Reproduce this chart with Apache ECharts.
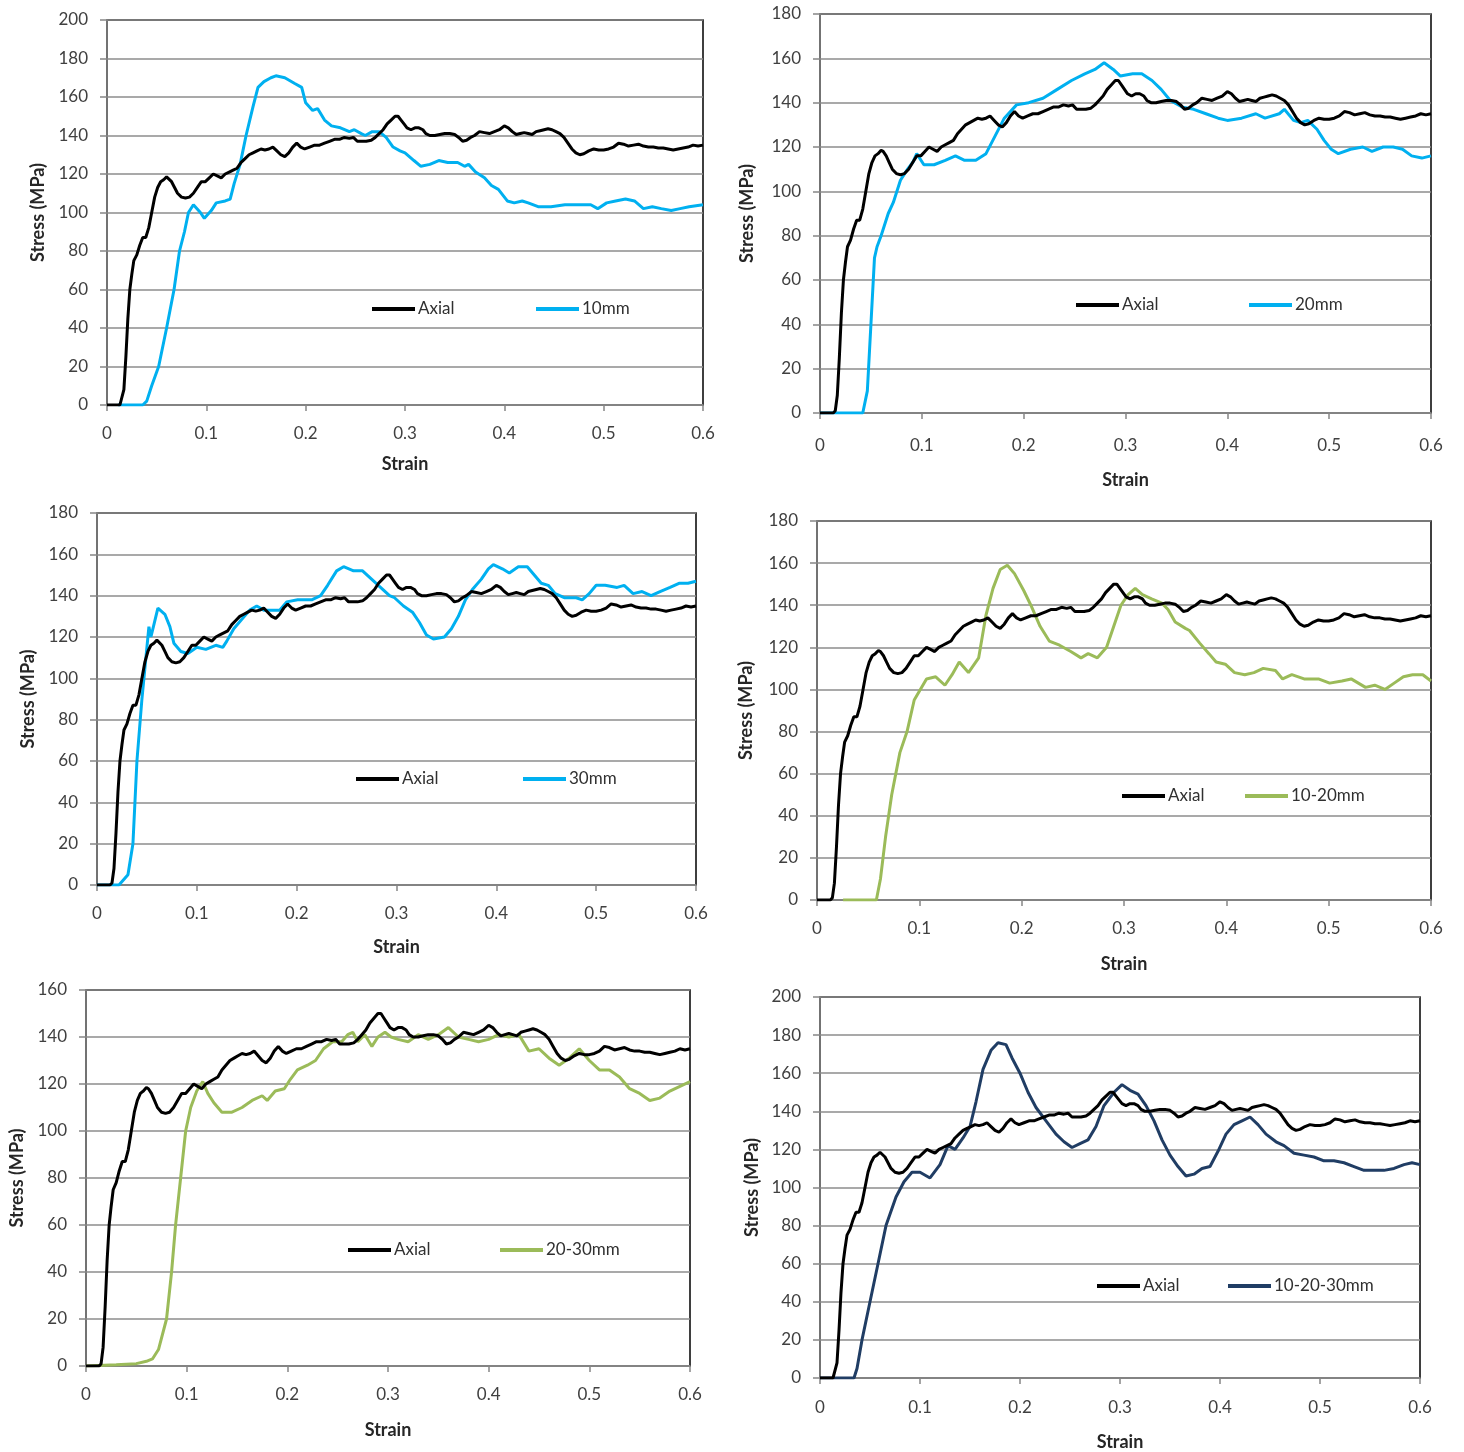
<!DOCTYPE html>
<html>
<head>
<meta charset="utf-8">
<script src="https://cdn.jsdelivr.net/npm/echarts@6/dist/echarts.min.js"></script>
<style>
  html, body { margin: 0; padding: 0; background: #fff; }
  #chart { width: 1464px; height: 1452px; }
</style>
</head>
<body>
<div id="chart"></div>
<script>
// Stress–strain curves: axial reference vs. various specimen configurations.
const strainTicks = [0, 0.1, 0.2, 0.3, 0.4, 0.5, 0.6];

// Axial (reference) curve, shared by every panel: [strain, stress MPa]
const axial = [[0,0],[0.013,0],[0.015,1],[0.017,8],[0.019,25],[0.021,45],[0.023,60],[0.025,68],[0.027,75],[0.03,78],[0.033,83],[0.036,87],[0.039,87],[0.042,92],[0.045,100],[0.048,108],[0.051,113],[0.054,116],[0.057,117],[0.06,118.5],[0.062,118],[0.065,116],[0.068,113],[0.071,110],[0.075,108],[0.079,107.5],[0.083,108],[0.087,110],[0.091,113],[0.095,116],[0.099,116],[0.103,118],[0.107,120],[0.111,119],[0.115,118],[0.119,120],[0.123,121],[0.127,122],[0.131,123],[0.135,126],[0.139,128],[0.143,130],[0.147,131],[0.151,132],[0.155,133],[0.159,132.5],[0.163,133],[0.167,134],[0.171,132],[0.175,130],[0.179,129],[0.183,131],[0.187,134],[0.191,136],[0.195,134],[0.199,133],[0.204,134],[0.209,135],[0.214,135],[0.219,136],[0.224,137],[0.229,138],[0.234,138],[0.239,139],[0.244,138.5],[0.248,139],[0.252,137],[0.256,137],[0.261,137],[0.266,137.5],[0.27,139],[0.274,141],[0.278,143],[0.282,146],[0.286,148],[0.29,150],[0.293,150],[0.296,148],[0.299,146],[0.302,144],[0.306,143],[0.31,144],[0.314,144],[0.318,143],[0.321,141],[0.325,140],[0.33,140],[0.335,140.5],[0.34,141],[0.345,141],[0.35,140.5],[0.354,139],[0.358,137],[0.362,137.5],[0.366,139],[0.37,140],[0.375,142],[0.38,141.5],[0.385,141],[0.39,142],[0.395,143],[0.4,145],[0.404,144],[0.408,142],[0.412,140.5],[0.416,141],[0.42,141.5],[0.424,141],[0.428,140.5],[0.432,142],[0.436,142.5],[0.44,143],[0.444,143.5],[0.448,143],[0.452,142],[0.456,141],[0.46,139],[0.464,136],[0.468,133],[0.472,131],[0.476,130],[0.48,130.5],[0.485,132],[0.49,133],[0.495,132.5],[0.5,132.5],[0.505,133],[0.51,134],[0.515,136],[0.52,135.5],[0.525,134.5],[0.53,135],[0.535,135.5],[0.54,134.5],[0.545,134],[0.55,134],[0.555,133.5],[0.56,133.5],[0.565,133],[0.57,132.5],[0.575,133],[0.58,133.5],[0.585,134],[0.59,135],[0.595,134.5],[0.6,135]];

const s10mm = [[0.011,0],[0.036,0],[0.04,2],[0.045,10],[0.052,20],[0.06,40],[0.0675,60],[0.073,80],[0.078,90],[0.082,100],[0.087,104],[0.094,100],[0.098,97],[0.105,101],[0.11,105],[0.119,106],[0.124,107],[0.128,115],[0.134,125],[0.14,140],[0.147,155],[0.152,165],[0.158,168],[0.165,170],[0.17,171],[0.179,170],[0.189,167],[0.196,165],[0.2,157],[0.207,153],[0.212,154],[0.219,148],[0.226,145],[0.235,144],[0.244,142],[0.249,143],[0.256,141],[0.26,140],[0.267,142],[0.274,142],[0.281,139],[0.288,134],[0.295,132],[0.3,131],[0.309,127],[0.316,124],[0.325,125],[0.334,127],[0.343,126],[0.353,126],[0.36,124],[0.364,125],[0.371,121],[0.38,118],[0.387,114],[0.394,112],[0.403,106],[0.41,105],[0.418,106],[0.424,105],[0.434,103],[0.447,103],[0.461,104],[0.475,104],[0.487,104],[0.494,102],[0.503,105],[0.512,106],[0.522,107],[0.531,106],[0.54,102],[0.549,103],[0.558,102],[0.568,101],[0.577,102],[0.586,103],[0.6,104]];

const s20mm = [[0,0],[0.042,0],[0.0465,10],[0.05,40],[0.0535,70],[0.056,75],[0.06,80],[0.067,90],[0.072,95],[0.079,105],[0.086,110],[0.091,113],[0.095,117],[0.102,112],[0.112,112],[0.123,114],[0.133,116],[0.142,114],[0.153,114],[0.163,117],[0.172,125],[0.181,133],[0.193,139],[0.205,140],[0.219,142],[0.233,146],[0.247,150],[0.26,153],[0.27,155],[0.279,158],[0.288,155],[0.295,152],[0.307,153],[0.316,153],[0.326,150],[0.335,146],[0.344,141],[0.356,138],[0.367,137],[0.379,135],[0.391,133],[0.4,132],[0.414,133],[0.428,135],[0.437,133],[0.451,135],[0.456,137],[0.465,132],[0.472,131],[0.479,132],[0.488,128],[0.495,123],[0.502,119],[0.509,117],[0.521,119],[0.533,120],[0.542,118],[0.553,120],[0.563,120],[0.572,119],[0.581,116],[0.591,115],[0.6,116]];

const s30mm = [[0,0],[0.022,0],[0.031,5],[0.036,20],[0.04,60],[0.045,90],[0.049,110],[0.052,125],[0.054,120],[0.059,130],[0.061,134],[0.068,131],[0.073,125],[0.077,117],[0.084,113],[0.091,112],[0.1,115],[0.109,114],[0.119,116],[0.126,115],[0.13,118],[0.137,124],[0.144,128],[0.153,133],[0.16,135],[0.167,133],[0.178,133],[0.183,133],[0.19,137],[0.201,138],[0.215,138],[0.224,140],[0.231,145],[0.24,152],[0.247,154],[0.257,152],[0.266,152],[0.275,148],[0.284,144],[0.293,140],[0.298,139],[0.307,135],[0.316,132],[0.323,127],[0.33,121],[0.337,119],[0.348,120],[0.355,124],[0.362,130],[0.369,138],[0.376,143],[0.385,148],[0.392,153],[0.397,155],[0.406,153],[0.413,151],[0.422,154],[0.431,154],[0.438,150],[0.445,146],[0.452,145],[0.459,141],[0.468,139],[0.48,139],[0.486,138],[0.493,141],[0.5,145],[0.509,145],[0.521,144],[0.528,145],[0.537,141],[0.546,142],[0.555,140],[0.564,142],[0.574,144],[0.583,146],[0.592,146],[0.6,147]];

const s10to20mm = [[0.0255,0],[0.058,0],[0.062,10],[0.067,30],[0.073,50],[0.081,70],[0.088,80],[0.095,95],[0.107,105],[0.116,106],[0.125,102],[0.132,107],[0.139,113],[0.148,108],[0.158,115],[0.165,135],[0.172,148],[0.179,157],[0.186,159],[0.193,155],[0.202,147],[0.209,140],[0.218,130],[0.227,123],[0.237,121],[0.248,118],[0.258,115],[0.265,117],[0.274,115],[0.283,120],[0.29,130],[0.297,140],[0.304,145],[0.311,148],[0.318,145],[0.327,143],[0.337,141],[0.343,138],[0.35,132],[0.36,129],[0.364,128],[0.374,122],[0.383,117],[0.39,113],[0.399,112],[0.408,108],[0.418,107],[0.427,108],[0.436,110],[0.448,109],[0.455,105],[0.464,107],[0.476,105],[0.49,105],[0.501,103],[0.513,104],[0.522,105],[0.529,103],[0.536,101],[0.545,102],[0.555,100],[0.564,103],[0.573,106],[0.582,107],[0.592,107],[0.6,104]];

const s20to30mm = [[0,0],[0.03,0.5],[0.05,1],[0.06,2],[0.066,3],[0.072,7],[0.08,20],[0.085,40],[0.089,60],[0.094,80],[0.099,100],[0.104,110],[0.11,117],[0.116,121],[0.121,116],[0.127,112],[0.135,108],[0.145,108],[0.155,110],[0.165,113],[0.175,115],[0.18,113],[0.188,117],[0.197,118],[0.203,122],[0.21,126],[0.22,128],[0.228,130],[0.236,135],[0.245,138],[0.254,138],[0.26,141],[0.265,142],[0.27,138],[0.277,141],[0.284,136],[0.29,140],[0.297,142],[0.303,140],[0.31,139],[0.32,138],[0.33,141],[0.34,139],[0.35,141],[0.36,144],[0.37,140],[0.38,139],[0.39,138],[0.4,139],[0.41,141],[0.42,140],[0.43,141],[0.44,134],[0.45,135],[0.46,131],[0.47,128],[0.48,131],[0.49,135],[0.5,130],[0.51,126],[0.52,126],[0.53,123],[0.54,118],[0.55,116],[0.56,113],[0.57,114],[0.58,117],[0.59,119],[0.6,121]];

const s10to30mm = [[0,0],[0.034,0],[0.037,5],[0.042,20],[0.05,40],[0.058,60],[0.066,80],[0.076,95],[0.084,103],[0.092,108],[0.1,108],[0.11,105],[0.12,112],[0.128,122],[0.135,120],[0.143,126],[0.15,132],[0.156,145],[0.163,162],[0.171,172],[0.178,176],[0.186,175],[0.192,168],[0.2,160],[0.208,150],[0.216,142],[0.226,135],[0.236,128],[0.244,124],[0.252,121],[0.26,123],[0.268,125],[0.276,132],[0.284,143],[0.294,150],[0.302,154],[0.31,151],[0.318,149],[0.326,143],[0.334,135],[0.342,125],[0.35,117],[0.358,111],[0.366,106],[0.374,107],[0.382,110],[0.39,111],[0.398,119],[0.406,128],[0.414,133],[0.422,135],[0.43,137],[0.438,133],[0.446,128],[0.456,124],[0.464,122],[0.474,118],[0.484,117],[0.494,116],[0.504,114],[0.514,114],[0.524,113],[0.534,111],[0.544,109],[0.554,109],[0.564,109],[0.574,110],[0.584,112],[0.592,113],[0.6,112]];

const legendNames = ['10mm', '20mm', '30mm', '10-20mm', '20-30mm', '10-20-30mm'];
const yMaxes = [200, 180, 180, 180, 160, 200];

const BLACK = '#000000', CYAN = '#00b0f0', GREEN = '#9bbb59', NAVY = '#203d64';
const FONT = 'Lato, "Liberation Sans", sans-serif';

// Panel layout: plot-area box, label/title offsets and legend placement
const panels = [
  { box: [107, 20, 596, 385], lm: 20, xGap: 50, yGap: 60, leg: [372, 536, 309], data: s10mm, color: CYAN },
  { box: [820, 14, 611, 399], lm: 24, xGap: 58, yGap: 64, leg: [1076, 1249, 305], data: s20mm, color: CYAN },
  { box: [97, 513, 599, 372], lm: 20, xGap: 53, yGap: 60, leg: [356, 523, 779], data: s30mm, color: CYAN },
  { box: [817, 521, 614, 379], lm: 20, xGap: 55, yGap: 62, leg: [1122, 1245, 796], data: s10to20mm, color: GREEN },
  { box: [86, 990, 604, 376], lm: 20, xGap: 55, yGap: 60, leg: [348, 500, 1250], data: s20to30mm, color: GREEN },
  { box: [820, 997, 600, 381], lm: 21, xGap: 55, yGap: 59, leg: [1097, 1228, 1286], data: s10to30mm, color: NAVY }
];

const grid = [], xAxis = [], yAxis = [], series = [], legend = [];
const axisGrey = '#868686';

panels.forEach((p, i) => {
  const [l, t, w, h] = p.box;
  grid.push({ left: l, top: t, width: w, height: h, show: true, borderColor: '#000', borderWidth: 1.5, backgroundColor: 'transparent' });
  xAxis.push({
    type: 'value', gridIndex: i, min: 0, max: 0.6, interval: 0.1,
    name: 'Strain', nameLocation: 'middle', nameGap: p.xGap,
    nameTextStyle: { fontFamily: FONT, fontSize: 18, fontWeight: 'bold', color: '#262626' },
    axisLine: { show: true, lineStyle: { color: axisGrey, width: 1.5 } },
    axisTick: { show: true, inside: false, length: 6, lineStyle: { color: axisGrey, width: 1.5 } },
    splitLine: { show: false },
    axisLabel: { margin: p.lm, fontFamily: FONT, fontSize: 17, color: '#404040',
      formatter: v => String(+v.toFixed(1)) }
  });
  yAxis.push({
    type: 'value', gridIndex: i, min: 0, max: yMaxes[i], interval: 20,
    name: 'Stress (MPa)', nameLocation: 'middle', nameGap: p.yGap, nameRotate: 90,
    nameTextStyle: { fontFamily: FONT, fontSize: 18, fontWeight: 'bold', color: '#262626' },
    axisLine: { show: true, lineStyle: { color: axisGrey, width: 1.5 } },
    axisTick: { show: true, inside: false, length: 7, lineStyle: { color: axisGrey, width: 1.5 } },
    splitLine: { show: true, lineStyle: { color: '#8c8c8c', width: 1.5 } },
    axisLabel: { margin: 19, fontFamily: FONT, fontSize: 17, color: '#404040' }
  });
  series.push({
    name: 'Axial', type: 'line', xAxisIndex: i, yAxisIndex: i, data: axial,
    showSymbol: false, symbol: 'none', lineStyle: { color: BLACK, width: 3 }, itemStyle: { color: BLACK }, z: 3
  });
  series.push({
    name: legendNames[i], type: 'line', xAxisIndex: i, yAxisIndex: i, data: p.data,
    showSymbol: false, symbol: 'none', lineStyle: { color: p.color, width: 3 }, itemStyle: { color: p.color }, z: 2
  });
  const legBase = {
    orient: 'horizontal', padding: 0, icon: 'rect', itemWidth: 43, itemHeight: 4, itemGap: 4,
    selectedMode: false,
    textStyle: { fontFamily: FONT, fontSize: 17, color: '#303030', lineHeight: 20, padding: [0, 0, 0, -2] }
  };
  legend.push(Object.assign({}, legBase, { left: p.leg[0], top: p.leg[2] - 10, data: ['Axial'] }));
  legend.push(Object.assign({}, legBase, { left: p.leg[1], top: p.leg[2] - 10, data: [legendNames[i]] }));
});

const chart = echarts.init(document.getElementById('chart'), null, { renderer: 'canvas' });
chart.setOption({ animation: false, backgroundColor: '#fff', grid, xAxis, yAxis, series, legend });
</script>
</body>
</html>
